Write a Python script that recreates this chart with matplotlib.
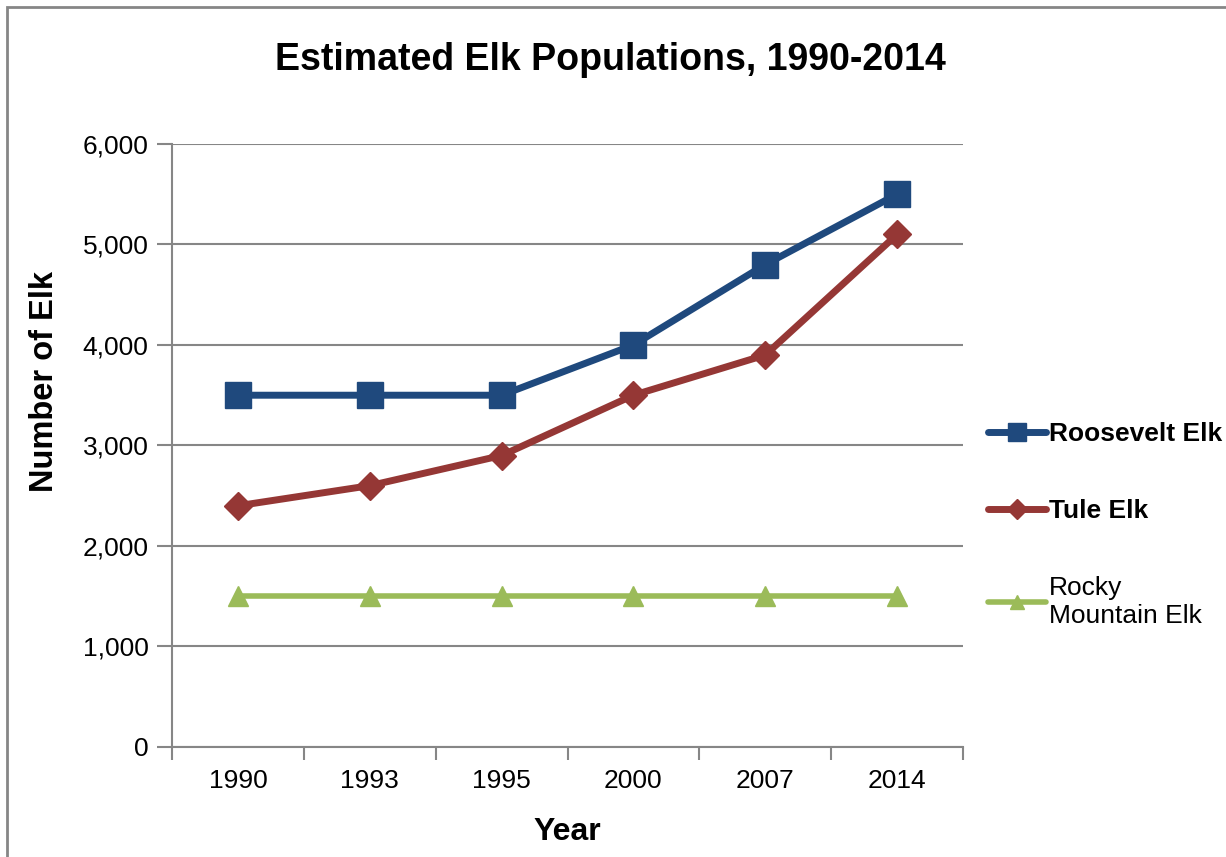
import matplotlib.pyplot as plt
from matplotlib.patches import Rectangle
from matplotlib.ticker import FuncFormatter

plt.rcParams['font.family'] = ['Liberation Sans', 'DejaVu Sans']

years = ["1990", "1993", "1995", "2000", "2007", "2014"]
roosevelt = [3500, 3500, 3500, 4000, 4800, 5500]
tule = [2400, 2600, 2900, 3500, 3900, 5100]
rocky = [1500, 1500, 1500, 1500, 1500, 1500]

fig = plt.figure(figsize=(12.26, 8.57), dpi=100)
ax = fig.add_axes([0.1403, 0.1284, 0.6452, 0.7036])

# chart frame, open on the right and bottom
fig.patches.append(Rectangle((7 / 1226, -0.1), 1.2, 1 - 7 / 857 + 0.1,
                             transform=fig.transFigure, fill=False,
                             edgecolor="#868686", linewidth=2))

x = range(len(years))
ax.plot(x, roosevelt, color="#1F497D", linewidth=5, marker="s", markersize=18.5,
        label="Roosevelt Elk", solid_joinstyle="round", solid_capstyle="round")
ax.plot(x, tule, color="#953735", linewidth=5, marker="D", markersize=14,
        label="Tule Elk", solid_joinstyle="round", solid_capstyle="round")
ax.plot(x, rocky, color="#9BBB59", linewidth=4, marker="^", markersize=15,
        label="Rocky\nMountain Elk", solid_capstyle="round")

ax.set_xlim(-0.5, len(years) - 0.5)
ax.set_ylim(0, 6000)
ax.set_yticks(range(0, 6001, 1000))
ax.yaxis.set_major_formatter(FuncFormatter(lambda v, p: f"{int(v):,}"))
ax.grid(axis="y", color="#868686", linewidth=1.5)
ax.set_axisbelow(True)

# category labels centred, tick marks on the boundaries
ax.set_xticks([i - 0.5 for i in range(len(years) + 1)])
ax.set_xticklabels([])
ax.set_xticks(list(x), minor=True)
ax.set_xticklabels(years, minor=True)
ax.tick_params(axis="x", which="major", length=9, width=1.5, color="#868686", direction="out")
ax.tick_params(axis="x", which="minor", length=0, labelsize=19, pad=16)
ax.tick_params(axis="y", length=11, width=1.5, color="#868686", labelsize=19, pad=6)

for side in ["top", "right"]:
    ax.spines[side].set_visible(False)
for side in ["left", "bottom"]:
    ax.spines[side].set_color("#868686")
    ax.spines[side].set_linewidth(1.5)

fig.text(0.498, 1 - 60 / 857, "Estimated Elk Populations, 1990-2014", fontsize=27,
         fontweight="bold", ha="center", va="center")
ax.set_xlabel("Year", fontsize=23, fontweight="bold", labelpad=17)
ax.set_ylabel("Number of Elk", fontsize=23.5, fontweight="bold", labelpad=16, y=0.606)

leg = ax.legend(loc="center left", bbox_to_anchor=(1.002, 0.368), frameon=False,
                fontsize=19, handlelength=2.2, handletextpad=0.1, labelspacing=2.0,
                markerscale=0.7)
for t in leg.get_texts()[:2]:
    t.set_fontweight("bold")

fig.savefig("out.png", dpi=100)
